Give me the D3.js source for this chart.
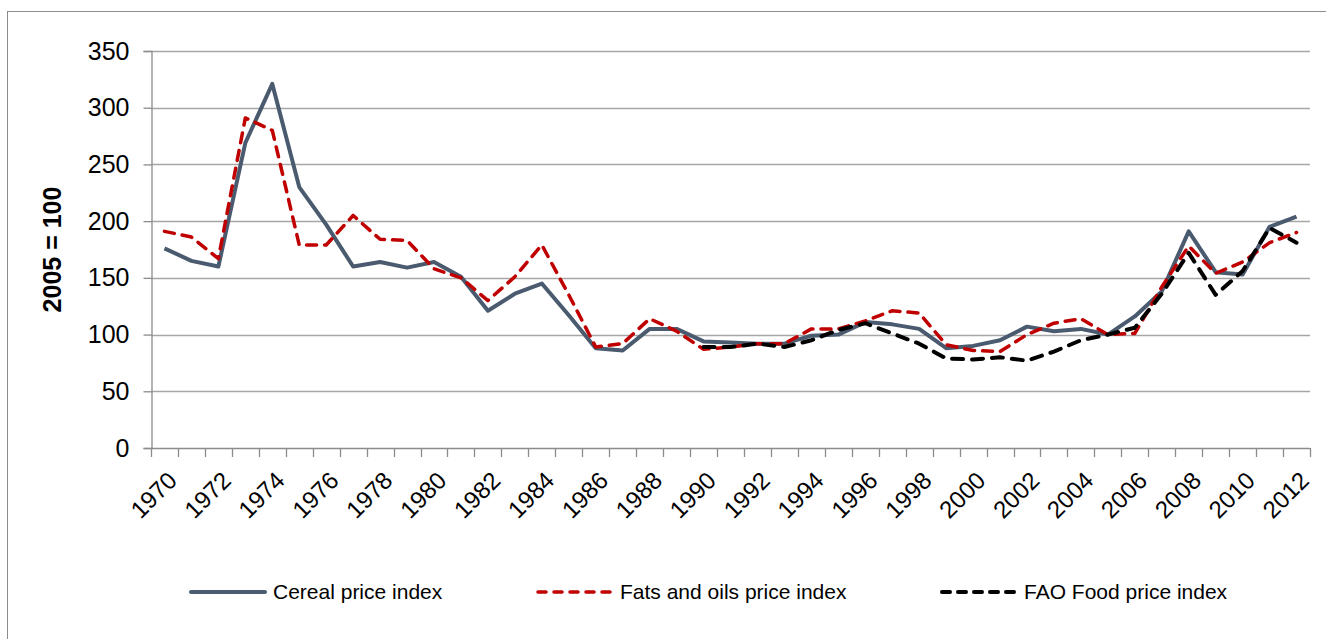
<!DOCTYPE html>
<html>
<head>
<meta charset="utf-8">
<script src="https://cdn.jsdelivr.net/npm/d3@7"></script>
<style>
  body { margin: 0; background: #fff; }
  svg text { font-family: "Liberation Sans", Arial, sans-serif; fill: #000; }
</style>
</head>
<body>
<div id="chart"></div>
<script>
// years 1970..2012
const years = d3.range(1970, 2013);
const yTicks = [0, 50, 100, 150, 200, 250, 300, 350];

const cereal = [176, 165, 160, 269, 321, 230, 197, 160, 164, 159, 164, 151, 121, 136, 145, 117,
  88, 86, 105, 105, 94, 93, 92, 92, 99, 100, 111, 109, 105, 88, 90, 95, 107, 103, 105, 100,
  116, 138, 191, 155, 153, 195, 204];
const fatsOils = [191, 186, 167, 291, 280, 179, 179, 205, 184, 183, 158, 150, 130, 151, 179, 135,
  89, 92, 114, 103, 87, 89, 92, 92, 105, 105, 112, 121, 119, 91, 86, 85, 100, 110, 114, 100,
  101, 142, 178, 154, 164, 181, 190];
// FAO food index only from 1990
const faoFood = [null, null, null, null, null, null, null, null, null, null, null, null, null, null, null, null,
  null, null, null, null, 89, 89, 92, 89, 95, 104, 110, 101, 92, 79, 78, 80, 77, 85, 95, 100,
  106, 136, 172, 135, 156, 194, 181];

const width = 1326, height = 639;
const plotLeft = 151, plotRight = 1310, plotTop = 51, plotBottom = 448;

const svg = d3.select("#chart").append("svg")
  .attr("width", width)
  .attr("height", height);

// chart border
svg.append("rect")
  .attr("x", 7.5).attr("y", 11.5)
  .attr("width", 1340).attr("height", 660)
  .attr("fill", "none")
  .attr("stroke", "#8c8c8c")
  .attr("stroke-width", 1);

const x = d3.scaleBand().domain(years).range([plotLeft, plotRight]).padding(0);
const y = d3.scaleLinear().domain([0, 350]).range([plotBottom, plotTop]);
const cx = yr => x(yr) + x.bandwidth() / 2;

// gridlines
svg.append("g")
  .selectAll("line")
  .data(yTicks.slice(1))
  .join("line")
  .attr("x1", plotLeft).attr("x2", plotRight)
  .attr("y1", d => Math.round(y(d)) + 0.5)
  .attr("y2", d => Math.round(y(d)) + 0.5)
  .attr("stroke", "#a6a6a6")
  .attr("stroke-width", 1.3);

// y axis
const yAxis = svg.append("g")
  .attr("transform", `translate(${plotLeft + 0.5},0)`)
  .call(d3.axisLeft(y).tickValues(yTicks).tickSize(8).tickPadding(14));
yAxis.select(".domain").attr("stroke", "#8c8c8c").attr("stroke-width", 1.3);
yAxis.selectAll(".tick line").attr("stroke", "#8c8c8c").attr("stroke-width", 1.3);
yAxis.selectAll(".tick text")
  .style("font-size", "25px")
  .style("font-family", "'Liberation Sans', Arial, sans-serif")
  .attr("fill", "#000");

svg.append("text")
  .attr("transform", `translate(61,${(plotTop + plotBottom) / 2}) rotate(-90)`)
  .attr("text-anchor", "middle")
  .style("font-size", "25px")
  .style("font-weight", "bold")
  .text("2005 = 100");

// x axis: ticks between categories
const bounds = years.map(d => x(d)).concat([plotRight]);
svg.append("line")
  .attr("x1", plotLeft).attr("x2", plotRight)
  .attr("y1", plotBottom + 0.5).attr("y2", plotBottom + 0.5)
  .attr("stroke", "#8c8c8c").attr("stroke-width", 1.3);
svg.append("g")
  .selectAll("line")
  .data(bounds)
  .join("line")
  .attr("x1", d => Math.round(d) + 0.5).attr("x2", d => Math.round(d) + 0.5)
  .attr("y1", plotBottom).attr("y2", plotBottom + 9)
  .attr("stroke", "#8c8c8c").attr("stroke-width", 1.3);

svg.append("g")
  .selectAll("text")
  .data(years.filter(d => d % 2 === 0))
  .join("text")
  .attr("transform", d => `translate(${cx(d) + 8},${plotBottom + 28}) rotate(-45)`)
  .attr("text-anchor", "end")
  .attr("dy", "0.35em")
  .style("font-size", "24px")
  .text(d => d);

// lines
const series = [
  { name: "Cereal price index", values: cereal, color: "#4a5a6f", width: 4, dash: null },
  { name: "Fats and oils price index", values: fatsOils, color: "#c00000", width: 3.5, dash: "10,8" },
  { name: "FAO Food price index", values: faoFood, color: "#000000", width: 4, dash: "11,9" }
];

const line = d3.line()
  .defined(d => d[1] != null)
  .x(d => cx(d[0]))
  .y(d => y(d[1]));

svg.append("g")
  .selectAll("path")
  .data(series)
  .join("path")
  .attr("d", s => line(years.map((yr, i) => [yr, s.values[i]])))
  .attr("fill", "none")
  .attr("stroke", s => s.color)
  .attr("stroke-width", s => s.width)
  .attr("stroke-dasharray", s => s.dash)
  .attr("stroke-linejoin", "round")
  .attr("stroke-linecap", s => s.dash ? "round" : "butt");

// legend
const legendX = [189, 536, 940];
const legend = svg.append("g")
  .selectAll("g")
  .data(series)
  .join("g")
  .attr("transform", (d, i) => `translate(${legendX[i]},592)`);
legend.append("line")
  .attr("x1", 2).attr("x2", 76)
  .attr("stroke", d => d.color)
  .attr("stroke-width", d => d.width)
  .attr("stroke-dasharray", d => d.dash ? "8,8" : null)
  .attr("stroke-linecap", "round");
legend.append("text")
  .attr("x", 84)
  .attr("dy", "0.35em")
  .style("font-size", "21px")
  .text(d => d.name);
</script>
</body>
</html>
